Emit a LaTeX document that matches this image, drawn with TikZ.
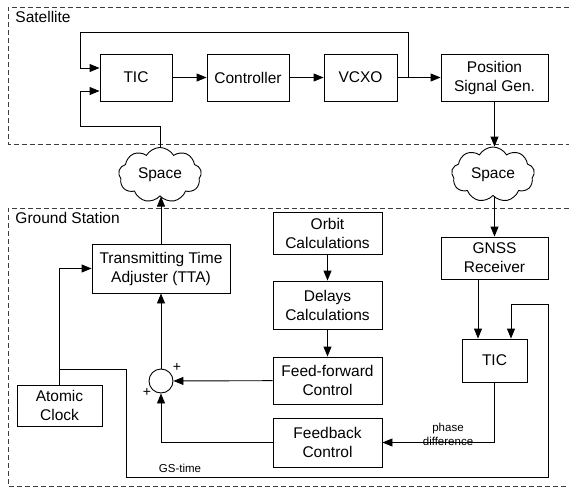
\documentclass[tikz,border=0pt]{standalone}
\usepackage{fontspec}
\setmainfont{Liberation Sans}
\usepackage{tikz}
\definecolor{dashgray}{RGB}{60, 60, 60}
\usetikzlibrary{shapes, shapes.symbols, arrows.meta, positioning, calc}

\begin{document}
\begin{tikzpicture}[
    x=1pt, y=-1pt,
    line width=0.9pt,
    >={Triangle[length=10pt, width=8pt]},
    block/.style={rectangle, draw, minimum height=47pt, align=center, inner sep=2pt, font=\fontsize{15.5}{19}\selectfont},
    cloudnode/.style={cloud, draw, cloud puffs=9, cloud puff arc=120, cloud ignores aspect, minimum width=83pt, minimum height=55pt, inner sep=0pt, font=\fontsize{15.5}{19}\selectfont},
    sumnode/.style={circle, draw, minimum size=24pt, inner sep=0pt},
    region/.style={draw=dashgray, dash pattern=on 5pt off 3pt, line width=0.8pt},
    small/.style={font=\fontsize{11.5}{14}\selectfont, align=center, inner sep=0pt},
    sign/.style={font=\fontsize{14}{14}\selectfont, inner sep=0pt}
]
    \useasboundingbox (0,0) rectangle (569,489);

    % Regions
    \draw[region] (569,7) -- (8,7) -- (8,144) -- (569,144);
    \draw[region] (569,208) -- (8,208) -- (8,486) -- (569,486);
    \node[anchor=west, inner sep=0pt, font=\fontsize{15.5}{19}\selectfont] (satlabel) at (15,17) {Satellite};
    \node[anchor=west, inner sep=0pt, font=\fontsize{15.5}{19}\selectfont] (gslabel) at (15,218) {Ground Station};

    % Satellite blocks
    \node[block, minimum width=72pt] (tic) at (136,77.5) {TIC};
    \node[block, minimum width=82pt] (ctrl) at (248,77.5) {Controller};
    \node[block, minimum width=73pt] (vcxo) at (360.5,77.5) {VCXO};
    \node[block, minimum width=107pt] (psg) at (494.5,77.5) {Position\\Signal Gen.};

    % Clouds
    \node[cloudnode] (spaceL) at (160,175) {Space};
    \node[cloudnode] (spaceR) at (493,174.5) {Space};

    % Ground station blocks
    \node[block, minimum width=138pt, minimum height=49pt] (tta) at (161,268.5) {Transmitting Time\\Adjuster (TTA)};
    \node[block, minimum width=109pt, minimum height=42pt] (orbit) at (327.5,233) {Orbit\\Calculations};
    \node[block, minimum width=109pt, minimum height=48pt] (delays) at (327.5,305) {Delays\\Calculations};
    \node[block, minimum width=109pt] (ff) at (327.5,380.5) {Feed-forward\\Control};
    \node[block, minimum width=109pt, minimum height=49pt] (fb) at (327.5,442.5) {Feedback\\Control};
    \node[block, minimum width=107pt, minimum height=42pt] (gnss) at (494.5,258) {GNSS\\Receiver};
    \node[block, minimum width=65pt, minimum height=43pt] (ticg) at (494.5,360.5) {TIC};
    \node[block, minimum width=85pt, minimum height=41pt] (clock) at (59.5,405.5) {Atomic\\Clock};
    \node[sumnode] (sum) at (161,381) {};
    \node[sign] (plus1) at (177,367) {+};
    \node[sign] (plus2) at (147,392) {+};

    % Helper points
    \coordinate (vj) at (408,77.5);
    \coordinate (top) at (80,32);
    \coordinate (low) at (80,126);
    \coordinate (gsj) at (59.5,369);
    \coordinate (gsb) at (126,477);
    \coordinate (gsr) at (548,304);

    % Satellite loop
    \draw[->] (tic) -- (ctrl);
    \draw[->] (ctrl) -- (vcxo);
    \draw[->] (vcxo) -- (psg);
    \draw[->] (vj) |- (top) |- ([yshift=9.5pt]tic.west);
    \draw[->] (spaceL.north) |- (low) |- ([yshift=-13.5pt]tic.west);
    \draw[->] (psg.south) -- (psg.south |- spaceR.north);

    % Ground links
    \draw[->] (tta.north) -- (tta.north |- spaceL.south);
    \draw[->] (gnss.north |- spaceR.south) -- (gnss.north);
    \draw[->] ([xshift=-16.5pt]gnss.south) -- ([xshift=-16.5pt]ticg.north);
    \draw[->] (orbit) -- (delays);
    \draw[->] (delays) -- (ff);
    \draw[->] (ff) -- (sum);
    \draw[->] (fb.west) -| (sum.south);
    \draw[->] (sum) -- (tta);
    \draw[->] (clock.north) |- (tta.west);
    \draw[->] (gsj) -| (gsb) -| (gsr) -| ([xshift=16.5pt]ticg.north);
    \draw[->] (ticg.south) |- (fb.east);
    \node[small] (phase) at (448,434) {phase\\difference};
    \node[small] (gstime) at (180,468) {GS-time};
\end{tikzpicture}
\end{document}
